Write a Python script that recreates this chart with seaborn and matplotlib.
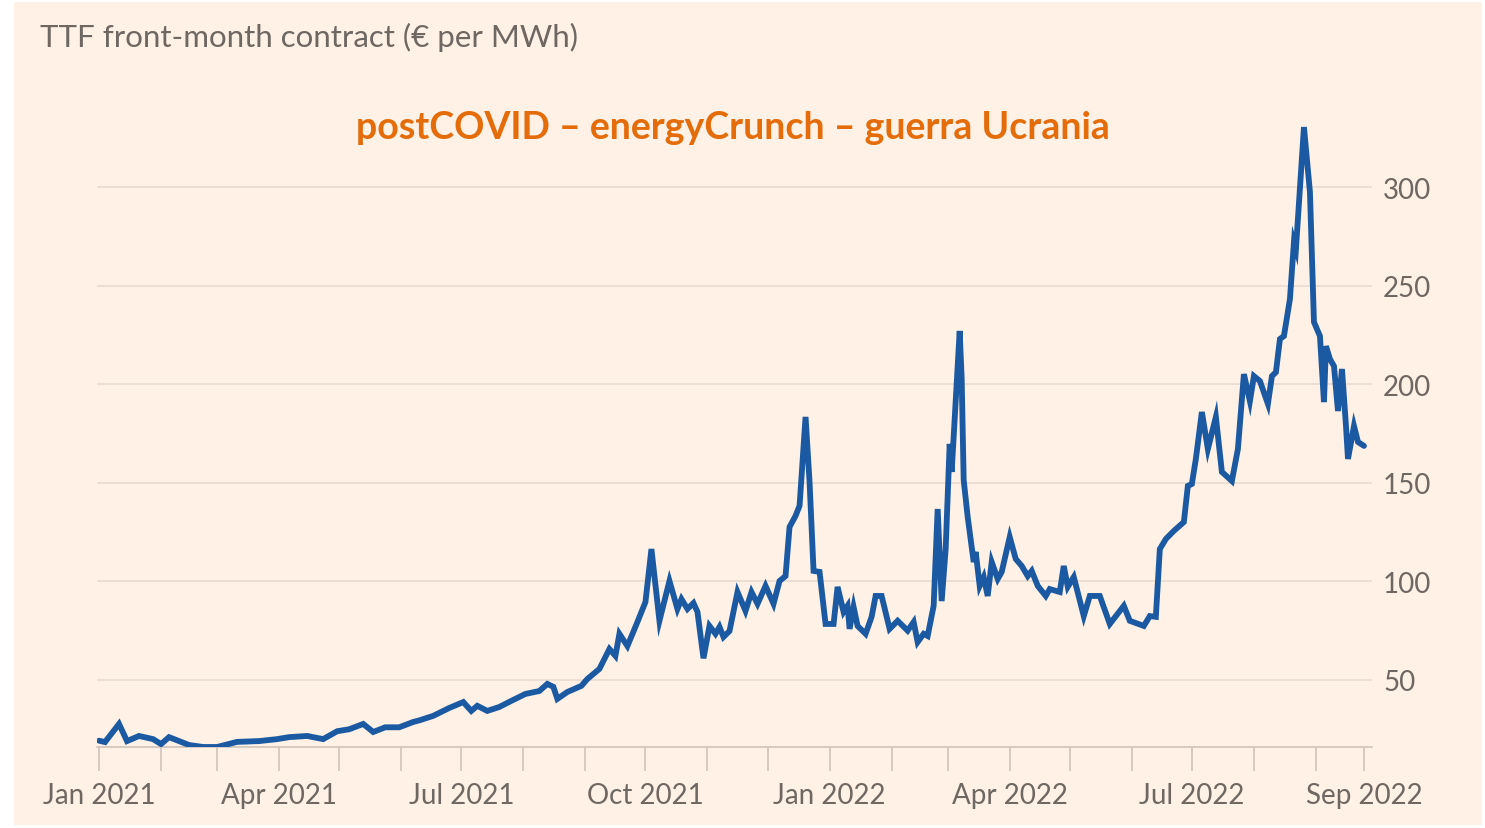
import matplotlib
matplotlib.use("Agg")
import matplotlib.pyplot as plt
import matplotlib.dates as mdates
from matplotlib.patches import Rectangle
import pandas as pd
import seaborn as sns

# ---------------- data ----------------
dates = [
    "2021-01-01", "2021-01-04", "2021-01-11", "2021-01-15", "2021-01-21", "2021-01-28",
    "2021-02-01", "2021-02-05", "2021-02-15", "2021-02-22", "2021-03-01", "2021-03-11",
    "2021-03-22", "2021-03-31", "2021-04-06", "2021-04-15", "2021-04-23", "2021-04-30",
    "2021-05-06", "2021-05-13", "2021-05-18", "2021-05-24", "2021-05-31", "2021-06-07",
    "2021-06-10", "2021-06-17", "2021-06-25", "2021-07-02", "2021-07-06", "2021-07-09",
    "2021-07-14", "2021-07-20", "2021-07-26", "2021-08-02", "2021-08-09", "2021-08-13",
    "2021-08-16", "2021-08-18", "2021-08-23", "2021-08-30", "2021-09-02", "2021-09-08",
    "2021-09-13", "2021-09-16", "2021-09-18", "2021-09-22", "2021-09-27", "2021-10-01",
    "2021-10-04", "2021-10-08", "2021-10-13", "2021-10-17", "2021-10-19", "2021-10-22",
    "2021-10-25", "2021-10-27", "2021-10-30", "2021-11-02", "2021-11-05", "2021-11-07",
    "2021-11-09", "2021-11-12", "2021-11-16", "2021-11-20", "2021-11-23", "2021-11-26",
    "2021-11-30", "2021-12-04", "2021-12-07", "2021-12-10", "2021-12-12", "2021-12-15",
    "2021-12-17", "2021-12-20", "2021-12-22", "2021-12-24", "2021-12-27", "2021-12-30",
    "2022-01-03", "2022-01-05", "2022-01-08", "2022-01-10", "2022-01-11", "2022-01-13",
    "2022-01-15", "2022-01-19", "2022-01-22", "2022-01-24", "2022-01-27", "2022-01-31",
    "2022-02-04", "2022-02-09", "2022-02-12", "2022-02-14", "2022-02-17", "2022-02-19",
    "2022-02-22", "2022-02-24", "2022-02-26", "2022-02-28", "2022-03-02", "2022-03-03",
    "2022-03-07", "2022-03-08", "2022-03-09", "2022-03-11", "2022-03-14", "2022-03-15",
    "2022-03-17", "2022-03-19", "2022-03-21", "2022-03-23", "2022-03-26", "2022-03-28",
    "2022-04-01", "2022-04-04", "2022-04-07", "2022-04-10", "2022-04-12", "2022-04-15",
    "2022-04-19", "2022-04-21", "2022-04-26", "2022-04-28", "2022-04-30", "2022-05-03",
    "2022-05-08", "2022-05-11", "2022-05-16", "2022-05-21", "2022-05-28", "2022-05-31",
    "2022-06-07", "2022-06-10", "2022-06-13", "2022-06-15", "2022-06-18", "2022-06-22",
    "2022-06-27", "2022-06-29", "2022-07-01", "2022-07-03", "2022-07-06", "2022-07-09",
    "2022-07-13", "2022-07-16", "2022-07-21", "2022-07-24", "2022-07-27", "2022-07-30",
    "2022-08-01", "2022-08-04", "2022-08-08", "2022-08-10", "2022-08-12", "2022-08-14",
    "2022-08-16", "2022-08-19", "2022-08-21", "2022-08-22", "2022-08-26", "2022-08-29",
    "2022-08-31", "2022-09-03", "2022-09-05", "2022-09-06", "2022-09-08", "2022-09-10",
    "2022-09-12", "2022-09-14", "2022-09-16", "2022-09-17", "2022-09-20", "2022-09-22",
    "2022-09-25",
]
prices = [
    19.2, 18.5, 27.7, 19.0, 21.6, 20.0,
    17.5, 21.0, 17.0, 16.0, 16.0, 18.6,
    19.0, 20.0, 21.0, 21.6, 20.0, 24.0,
    25.0, 27.7, 23.6, 26.0, 26.0, 28.7,
    29.5, 31.8, 35.8, 38.8, 34.3, 36.9,
    34.3, 36.3, 39.4, 42.9, 44.4, 48.0,
    46.5, 40.4, 43.9, 47.0, 50.5, 55.6,
    65.7, 62.2, 73.4, 67.2, 79.4, 89.5,
    116.4, 80.0, 100.2, 86.0, 91.0, 86.0,
    89.0, 84.5, 61.0, 77.4, 73.4, 76.9,
    71.8, 74.8, 94.6, 85.0, 94.6, 88.6,
    97.7, 88.6, 100.2, 102.7, 127.6, 133.2,
    138.3, 183.4, 150.4, 105.3, 104.8, 78.4,
    78.4, 97.2, 84.5, 87.6, 75.9, 87.0,
    77.4, 73.4, 82.0, 92.6, 92.6, 75.9,
    80.0, 75.0, 79.4, 69.2, 73.4, 72.3,
    87.6, 136.7, 90.0, 116.4, 169.7, 155.5,
    227.0, 202.7, 151.4, 132.7, 109.8, 114.9,
    97.7, 102.2, 92.6, 109.8, 101.2, 104.8,
    122.5, 111.4, 107.8, 102.7, 105.3, 97.7,
    92.6, 96.1, 94.6, 107.8, 97.2, 102.2,
    82.4, 92.6, 92.6, 78.4, 87.6, 80.0,
    77.4, 82.4, 82.0, 116.4, 121.5, 125.6,
    130.1, 148.4, 149.4, 162.1, 185.9, 167.1,
    183.4, 155.5, 150.9, 167.1, 205.1, 191.4,
    204.1, 201.6, 190.0, 204.1, 206.1, 222.9,
    224.4, 243.2, 272.1, 268.6, 330.4, 297.4,
    231.5, 224.4, 190.9, 219.3, 212.7, 209.2,
    186.4, 207.7, 178.8, 162.1, 178.8, 170.7,
    168.7,
]
xtick_dates = ["2021-01-01", "2021-04-01", "2021-07-01", "2021-10-01",
               "2022-01-01", "2022-04-01", "2022-07-01", "2022-09-25"]
xtick_labels = ["Jan 2021", "Apr 2021", "Jul 2021", "Oct 2021",
                "Jan 2022", "Apr 2022", "Jul 2022", "Sep 2022"]
ytick_values = [50, 100, 150, 200, 250, 300]
title_text = "TTF front-month contract (€ per MWh)"
annotation_text = "postCOVID – energyCrunch – guerra Ucrania"

# ---------------- style ----------------
PAPER = "#FFF1E5"
BLUE = "#1B5AA3"
GRID = "#EADDD1"
TICKC = "#CFC4BA"
TEXTC = "#6E6762"
ORANGE = "#E46C0A"

sns.set_theme(style="white")
plt.rcParams["font.family"] = ["Lato", "DejaVu Sans"]

df = pd.DataFrame({"date": pd.to_datetime(dates), "price": prices})

fig = plt.figure(figsize=(14.85, 8.29), dpi=100, facecolor="white")
fig.patches.append(Rectangle((14 / 1485, 3 / 829), (1482 - 14) / 1485, (826 - 3) / 829,
                             transform=fig.transFigure, facecolor=PAPER,
                             edgecolor="none", zorder=-10))

ax = fig.add_axes([97 / 1485, 1 - 748 / 829, (1372 - 97) / 1485, (748 - 119) / 829])
ax.set_facecolor("none")

sns.lineplot(data=df, x="date", y="price", ax=ax, color=BLUE, linewidth=4.2,
             solid_joinstyle="miter", zorder=3)

ax.set_xlim(pd.Timestamp("2020-12-31"), pd.Timestamp("2022-09-29"))
ax.set_ylim(16, 335)

# y axis on the right, no tick marks
ax.yaxis.tick_right()
ax.set_yticks(ytick_values)
ax.set_yticklabels([str(v) for v in ytick_values])
ax.tick_params(axis="y", length=0, pad=8, labelsize=20, labelcolor=TEXTC)
ax.grid(axis="y", color=GRID, linewidth=1.3, zorder=0)
ax.grid(axis="x", visible=False)

# x axis
ax.set_xticks(pd.to_datetime(xtick_dates))
ax.set_xticklabels(xtick_labels)
ax.xaxis.set_minor_locator(mdates.MonthLocator())
ax.tick_params(axis="x", which="both", length=17, width=1.2, color=TICKC,
               direction="out", bottom=True)
ax.tick_params(axis="x", which="major", pad=8, labelsize=20, labelcolor=TEXTC)

for side in ["top", "left", "right"]:
    ax.spines[side].set_visible(False)
ax.spines["bottom"].set_color(TICKC)
ax.spines["bottom"].set_linewidth(1.2)

ax.set_xlabel("")
ax.set_ylabel("")

fig.text(40 / 1485, 1 - 37 / 829, title_text, ha="left", va="center",
         fontsize=22.5, color=TEXTC)
fig.text(733 / 1485, 1 - 128 / 829, annotation_text, ha="center", va="center",
         fontsize=27, color=ORANGE, fontweight="bold")

fig.savefig("out.png", dpi=100, facecolor="white")
